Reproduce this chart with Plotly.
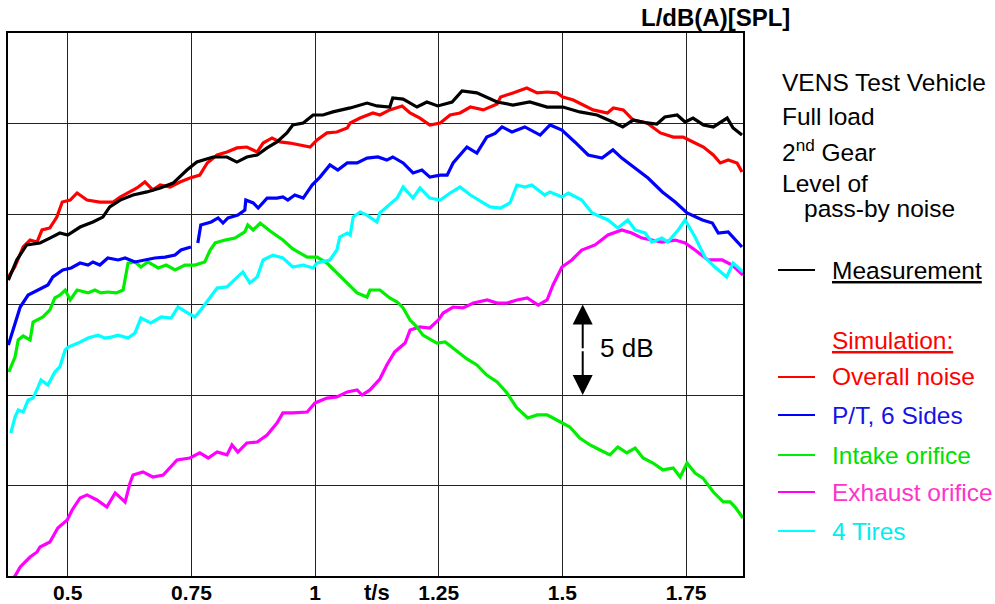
import plotly.graph_objects as go

# ---------------- data (time in s, level in dB(A)) ----------------
t_meas = [0.38,0.397,0.417,0.444,0.464,0.484,0.50,0.525,0.551,0.571,0.585,0.606,0.632,0.66,0.687,0.713,
          0.741,0.761,0.794,0.822,0.842,0.862,0.883,0.903,0.923,0.943,0.955,0.976,0.996,1.016,1.036,1.071,
          1.105,1.125,1.151,1.157,1.178,1.206,1.226,1.248,1.277,1.297,1.327,1.347,1.368,1.40,1.434,1.469,
          1.501,1.535,1.57,1.602,1.622,1.643,1.671,1.691,1.707,1.732,1.748,1.764,1.785,1.805,1.833,1.845,1.863]
L_meas = [66.35,67.46,68.29,68.4,68.67,68.95,68.84,69.28,69.56,69.83,70.39,70.77,71.05,71.22,71.44,71.71,
          72.43,72.87,73.15,73.15,72.87,73.15,73.26,73.65,73.98,74.48,74.92,75.03,75.47,75.47,75.64,75.86,
          76.13,75.97,75.91,76.41,76.35,75.91,76.19,75.97,76.19,76.8,76.69,76.46,76.19,76.02,76.19,75.91,
          75.91,75.64,75.47,75.08,74.81,75.19,75.03,74.97,75.36,75.47,75.08,75.3,74.92,74.81,75.3,74.75,74.36]

t_overall = [0.38,0.393,0.41,0.424,0.438,0.448,0.464,0.478,0.489,0.505,0.519,0.539,0.565,0.592,0.606,0.62,
             0.64,0.656,0.672,0.687,0.707,0.727,0.747,0.767,0.782,0.802,0.822,0.842,0.862,0.883,0.895,0.913,
             0.929,0.949,0.97,0.99,1.004,1.024,1.044,1.065,1.071,1.091,1.117,1.131,1.151,1.176,1.192,1.212,
             1.232,1.253,1.273,1.293,1.314,1.34,1.368,1.375,1.40,1.428,1.449,1.469,1.489,1.501,1.522,1.542,
             1.562,1.591,1.603,1.623,1.643,1.671,1.698,1.724,1.744,1.764,1.785,1.805,1.819,1.835,1.853,1.863]
L_overall = [66.52,67.07,68.18,68.56,68.45,69.12,69.23,69.83,70.66,70.77,71.16,70.77,70.66,70.66,70.94,71.16,
             71.44,71.77,71.33,71.6,71.49,71.77,71.99,72.15,72.82,73.26,73.43,73.65,73.7,73.43,73.92,74.2,
             73.98,73.92,73.81,73.7,74.09,74.48,74.53,74.75,75.03,75.3,75.58,75.47,75.75,75.97,75.58,75.3,
             74.92,75.03,75.47,75.58,75.91,75.75,76.08,76.46,76.69,76.96,76.69,76.74,76.69,76.46,76.3,76.02,
             75.75,75.58,75.86,75.75,75.19,75.03,74.48,74.25,74.25,73.98,73.7,73.26,72.82,72.98,72.82,72.32]

t_pt = [0.38,0.3935,0.404,0.42,0.44,0.46,0.47,0.49,0.507,0.525,0.541,0.551,0.565,0.581,0.602,0.616,0.636,
        0.656,0.676,0.697,0.717,0.729,0.749,None,0.763,0.769,0.79,0.804,0.814,0.824,0.844,0.858,0.86,0.875,
        0.885,0.903,0.923,0.935,0.945,0.959,0.976,0.994,1.01,1.03,1.046,1.065,1.085,1.105,1.127,1.145,
        1.157,1.178,1.198,1.216,1.232,1.253,1.267,1.279,1.307,1.327,1.347,1.364,1.378,1.398,1.424,1.455,
        1.475,1.499,1.525,1.552,1.58,1.602,1.62,1.647,1.673,1.702,1.728,1.752,1.783,1.803,1.815,1.835,1.863]
L_pt = [62.76,63.98,64.86,65.52,65.8,66.08,66.52,66.91,67.02,67.29,67.18,67.35,67.18,67.57,67.46,67.57,67.35,
        67.46,67.57,67.62,67.73,68.01,68.18,None,68.4,69.39,69.56,69.78,69.5,69.78,69.94,70.22,70.77,70.61,
        70.33,70.88,70.88,70.94,70.77,71.05,70.88,71.6,72.04,72.71,72.43,72.82,72.82,73.09,73.15,72.98,
        73.15,72.82,72.27,72.43,72.04,72.15,72.15,72.82,73.7,73.37,74.25,74.45,74.81,74.53,74.81,74.36,
        74.92,74.64,73.98,73.26,73.09,73.54,73.09,72.54,71.99,71.22,70.66,70.06,69.67,69.5,68.95,69.01,68.18]

t_intake = [0.381,0.3935,0.40,0.41,0.424,0.43,0.45,0.464,0.474,0.484,0.495,0.505,0.519,0.541,0.555,0.567,
            0.581,0.598,0.612,0.622,0.636,0.648,0.662,0.683,0.699,0.717,0.737,0.757,0.777,0.788,0.798,0.818,
            0.838,0.858,0.864,0.875,0.889,0.909,0.935,0.955,0.984,1.004,1.024,1.044,1.065,1.085,1.105,1.111,
            1.131,1.151,1.166,1.178,1.192,1.206,1.218,1.246,1.263,1.279,1.307,1.327,1.347,1.368,1.388,1.408,
            1.43,1.449,1.469,1.481,1.499,1.515,1.535,1.556,1.576,1.596,1.612,1.63,1.647,1.663,1.683,1.703,
            1.724,1.738,1.752,1.768,1.784,1.805,1.825,1.839,1.849,1.865]
L_intake = [61.27,62.1,63.04,63.26,63.04,64.03,64.31,64.7,65.36,65.52,65.8,65.25,65.8,65.64,65.8,65.64,
            65.69,65.64,65.8,67.29,67.35,67.07,67.35,67.02,67.18,66.91,67.18,67.18,67.35,68.01,68.4,68.56,
            68.67,69.01,69.39,69.12,69.5,69.06,68.56,68.07,67.62,67.62,67.29,66.74,66.19,65.64,65.41,65.8,
            65.8,65.36,65.14,64.81,64.14,63.76,63.31,62.87,62.93,62.6,61.99,61.66,61.1,60.72,60.11,59.28,
            58.73,58.9,58.9,58.73,58.45,58.23,57.62,57.24,56.96,56.69,57.13,56.8,57.07,56.52,56.24,55.86,
            55.97,55.47,56.24,55.69,55.41,54.64,54.09,54.09,53.81,53.2]

t_exhaust = [0.383,0.3935,0.404,0.424,0.438,0.444,0.464,0.48,0.499,0.509,0.525,0.539,0.559,0.579,0.596,0.616,
             0.626,0.632,0.652,0.672,0.693,0.707,0.721,0.747,0.767,0.784,0.802,0.822,0.832,0.844,0.862,0.883,
             0.903,0.923,0.935,0.955,0.984,1.0,1.024,1.044,1.065,1.085,1.095,1.111,1.131,1.145,1.161,1.182,
             1.192,1.212,1.232,1.249,1.259,1.279,1.299,1.32,1.348,1.368,1.388,1.408,1.429,1.451,1.469,1.481,
             1.499,1.519,1.539,1.566,1.592,1.62,1.64,1.661,1.681,1.701,1.728,1.748,1.768,1.794,1.823,1.843,1.865]
L_exhaust = [49.67,50.0,50.5,51.05,51.33,51.6,51.88,52.65,53.09,53.65,54.31,54.48,54.2,53.81,54.59,54.09,
             55.14,55.58,55.75,55.47,55.58,55.97,56.41,56.52,56.8,56.52,56.85,56.69,57.24,56.85,57.35,57.4,
             57.79,58.45,59.01,59.01,59.06,59.56,59.83,59.89,60.17,60.28,60.0,60.28,60.88,61.66,62.38,62.87,
             63.59,63.76,63.7,64.14,64.53,64.86,64.81,65.08,65.25,65.08,65.08,65.25,65.36,64.97,65.25,66.08,
             67.07,67.46,68.01,68.29,68.84,69.12,68.95,68.67,68.56,68.45,68.56,68.4,68.01,67.46,67.46,67.18,66.63]

t_tires = [0.385,0.3935,0.40,0.41,0.42,0.43,0.44,0.446,0.46,0.474,0.484,0.495,0.501,0.521,0.541,0.561,0.575,
           0.588,0.602,0.622,0.636,0.648,0.668,0.689,0.709,0.723,0.743,0.757,0.769,0.784,0.802,0.822,0.842,
           0.854,0.868,0.883,0.895,0.915,0.935,0.955,0.976,0.996,1.004,1.03,1.044,1.05,1.065,1.071,1.077,
           1.091,1.105,1.125,1.131,1.151,1.166,1.178,1.198,1.212,1.232,1.253,1.273,1.293,1.314,1.34,1.354,
           1.375,1.394,1.408,1.424,1.438,1.464,1.475,1.499,1.512,1.539,1.56,1.58,1.592,1.612,1.632,1.647,
           1.667,1.681,1.701,1.713,1.734,1.748,1.768,1.788,1.808,1.832,1.845,1.865]
L_tires = [57.9,58.78,59.17,59.06,59.72,59.83,60.44,60.83,60.55,61.27,61.55,62.49,62.65,62.87,63.15,63.31,
           63.15,63.2,63.31,63.15,63.43,64.25,63.98,64.31,64.25,64.86,64.53,64.31,64.7,65.25,65.91,65.97,
           66.46,66.8,66.19,66.52,67.46,67.73,67.57,67.07,67.18,67.02,67.29,67.46,68.01,68.73,68.95,68.84,
           69.83,70.11,69.94,69.56,70.06,70.5,70.88,71.49,70.88,71.44,70.88,70.77,71.16,71.49,71.05,70.61,
           70.39,70.33,70.61,71.6,71.49,71.6,71.05,71.22,70.94,71.16,70.77,70.06,69.83,69.67,69.23,69.67,
           69.12,68.95,68.45,68.67,68.45,69.12,69.67,68.73,67.62,67.07,66.52,67.29,66.8]

x_ticks = [0.5, 0.75, 1, 1.25, 1.5, 1.75]
x_ticktext = ["0.5", "0.75", "1", "1.25", "1.5", "1.75"]
y_grid = [55, 60, 65, 70, 75]

FONT = "Arial, Liberation Sans, sans-serif"

series = [
    (t_exhaust, L_exhaust, "#ff00ff"),
    (t_intake, L_intake, "#00ee00"),
    (t_tires, L_tires, "#00ffff"),
    (t_pt, L_pt, "#0000ff"),
    (t_overall, L_overall, "#ff0000"),
    (t_meas, L_meas, "#000000"),
]

fig = go.Figure()
for t, L, c in series:
    fig.add_trace(go.Scatter(x=t, y=L, mode="lines", line=dict(color=c, width=3.2),
                             connectgaps=False, showlegend=False, hoverinfo="skip"))

fig.update_layout(
    width=995, height=604,
    margin=dict(l=8, r=252, t=33, b=28, autoexpand=False),
    paper_bgcolor="white", plot_bgcolor="white",
    showlegend=False,
    xaxis=dict(range=[0.3793, 1.865], tickvals=x_ticks, ticktext=x_ticktext, automargin=False,
               showgrid=True, gridcolor="#222222", gridwidth=1.3, zeroline=False,
               showline=True, linecolor="black", linewidth=2, mirror=True, ticks="",
               ticklabelstandoff=-3,
               tickfont=dict(family=FONT, size=21, color="black", weight="bold")),
    yaxis=dict(range=[50, 80], tickvals=y_grid, showticklabels=False, automargin=False,
               showgrid=True, gridcolor="#222222", gridwidth=1.3, zeroline=False,
               showline=True, linecolor="black", linewidth=2, mirror=True, ticks=""),
)

def px_x(p):
    return (p - 8) / 735.0

def px_y(p):
    return (576 - p) / 543.0

ann = []
# axis labels
ann.append(dict(text="<b>L/dB(A)[SPL]</b>", xref="paper", yref="paper", x=px_x(792), y=px_y(17),
                xanchor="right", yanchor="middle", showarrow=False,
                font=dict(family=FONT, size=24, color="black")))
ann.append(dict(text="<b>t/s</b>", xref="paper", yref="paper", x=px_x(377), y=px_y(592),
                xanchor="center", yanchor="middle", showarrow=False,
                font=dict(family=FONT, size=22, color="black")))
# 5 dB arrow
ann.append(dict(text="", xref="x", yref="y", axref="x", ayref="y", x=1.541, y=65, ax=1.541, ay=62.5,
                showarrow=True, arrowhead=2, arrowsize=2, arrowwidth=2, arrowcolor="black", standoff=0))
ann.append(dict(text="", xref="x", yref="y", axref="x", ayref="y", x=1.541, y=60, ax=1.541, ay=62.5,
                showarrow=True, arrowhead=2, arrowsize=2, arrowwidth=2, arrowcolor="black", standoff=0))
ann.append(dict(text="5 dB", xref="x", yref="y", x=1.572, y=62.6, xanchor="left", yanchor="middle",
                showarrow=False, font=dict(family=FONT, size=26, color="black")))

# right-hand description and legend
LEG = 24.5
info = [("VENS Test Vehicle", 780, 82), ("Full load", 780, 116.5), ("2<sup>nd</sup> Gear", 780, 150),
        ("Level of", 780, 184), ("pass-by noise", 802, 209)]
for txt, xx, yy in info:
    ann.append(dict(text=txt, xref="paper", yref="paper", x=px_x(xx), y=px_y(yy), xanchor="left",
                    yanchor="middle", showarrow=False, font=dict(family=FONT, size=LEG, color="black")))

legend_items = [
    ("<u>Measurement</u>", "#000000", "#000000", 270),
    ("Overall noise", "#ff0000", "#ff0000", 377),
    ("P/T, 6 Sides", "#0000ff", "#1414e6", 415),
    ("Intake orifice", "#00ee00", "#00e000", 455),
    ("Exhaust orifice", "#ff00ff", "#ff33cc", 492),
    ("4 Tires", "#00ffff", "#00eeee", 531),
]
shapes = []
for txt, lc, tc, yy in legend_items:
    shapes.append(dict(type="line", xref="paper", yref="paper", x0=px_x(778), x1=px_x(815),
                       y0=px_y(yy), y1=px_y(yy), line=dict(color=lc, width=2)))
    ann.append(dict(text=txt, xref="paper", yref="paper", x=px_x(830), y=px_y(yy), xanchor="left",
                    yanchor="middle", showarrow=False, font=dict(family=FONT, size=LEG, color=tc)))
ann.append(dict(text="<u>Simulation:</u>", xref="paper", yref="paper", x=px_x(830), y=px_y(340),
                xanchor="left", yanchor="middle", showarrow=False,
                font=dict(family=FONT, size=LEG, color="#ff0000")))

fig.update_layout(annotations=ann, shapes=shapes)
fig.write_html("out.html", config={"displayModeBar": False},
               post_script="document.body.style.margin='0px';")
